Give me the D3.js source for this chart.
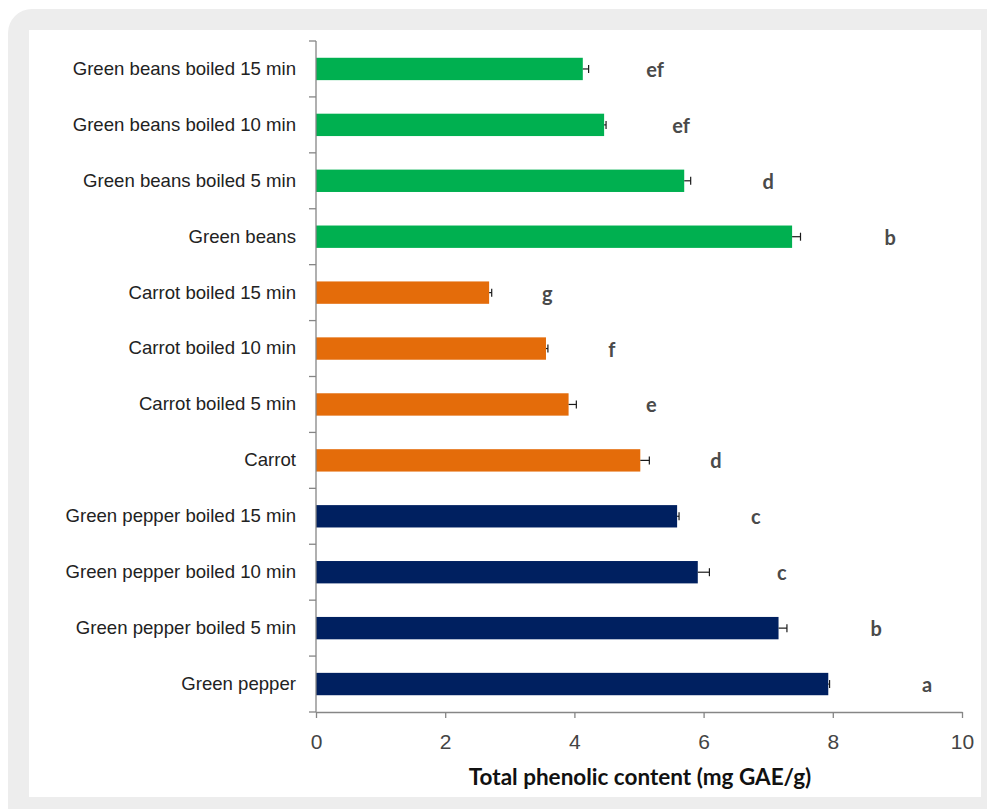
<!DOCTYPE html>
<html>
<head>
<meta charset="utf-8">
<script src="https://cdn.jsdelivr.net/npm/d3@7"></script>
<style>
  html, body { margin: 0; padding: 0; background: #ffffff; }
  svg { display: block; }
</style>
</head>
<body>
<svg id="chart" width="987" height="809"></svg>
<script>
// Samples, listed top to bottom
const categories = [
  "Green beans boiled 15 min",
  "Green beans boiled 10 min",
  "Green beans boiled 5 min",
  "Green beans",
  "Carrot boiled 15 min",
  "Carrot boiled 10 min",
  "Carrot boiled 5 min",
  "Carrot",
  "Green pepper boiled 15 min",
  "Green pepper boiled 10 min",
  "Green pepper boiled 5 min",
  "Green pepper"
];
const groups = [
  "Green beans", "Green beans", "Green beans", "Green beans",
  "Carrot", "Carrot", "Carrot", "Carrot",
  "Green pepper", "Green pepper", "Green pepper", "Green pepper"
];
// Total phenolic content (mg GAE/g) and standard deviation
const values = [4.13, 4.46, 5.70, 7.37, 2.68, 3.56, 3.91, 5.02, 5.59, 5.91, 7.16, 7.93];
const errors = [0.09, 0.03, 0.10, 0.13, 0.04, 0.03, 0.12, 0.14, 0.03, 0.18, 0.13, 0.02];
// Significance letters and where they sit along the value axis
const letters = ["ef", "ef", "d", "b", "g", "f", "e", "d", "c", "c", "b", "a"];
const letterAt = [5.25, 5.65, 7.0, 8.89, 3.58, 4.58, 5.19, 6.19, 6.81, 7.21, 8.67, 9.46];
const xTicks = [0, 2, 4, 6, 8, 10];
const groupNames = ["Green beans", "Carrot", "Green pepper"];
const groupColors = ["#00b050", "#e46c0a", "#002060"];

const rows = categories.map((c, i) => ({
  cat: c, group: groups[i], value: values[i], err: errors[i],
  letter: letters[i], letterAt: letterAt[i]
}));

const svg = d3.select("#chart");

// Frame: grey rounded card with a white panel inside
svg.append("rect").attr("x", 8).attr("y", 9).attr("width", 1010).attr("height", 830)
  .attr("rx", 24).attr("fill", "#ededed");
svg.append("rect").attr("x", 29).attr("y", 30).attr("width", 952).attr("height", 767)
  .attr("fill", "#ffffff");

const x = d3.scaleLinear().domain([0, 10]).range([316, 962]);
const y = d3.scaleBand().domain(categories).range([41, 712])
  .paddingInner(0.6).paddingOuter(0.3);
const color = d3.scaleOrdinal().domain(groupNames).range(groupColors);

const axisColor = "#868686";
const yTop = y.range()[0], yBottom = y.range()[1];

// Bars
svg.append("g").selectAll("rect").data(rows).join("rect")
  .attr("x", x(0))
  .attr("y", d => y(d.cat))
  .attr("width", d => x(d.value) - x(0))
  .attr("height", y.bandwidth())
  .attr("fill", d => color(d.group));

// Error bars (positive side with cap)
const eb = svg.append("g").attr("stroke", "#1a1a1a").attr("stroke-width", 1.2);
eb.selectAll("line.h").data(rows).join("line").attr("class", "h")
  .attr("x1", d => x(d.value)).attr("x2", d => x(d.value + d.err))
  .attr("y1", d => y(d.cat) + y.bandwidth() / 2).attr("y2", d => y(d.cat) + y.bandwidth() / 2);
eb.selectAll("line.c").data(rows).join("line").attr("class", "c")
  .attr("x1", d => x(d.value + d.err)).attr("x2", d => x(d.value + d.err))
  .attr("y1", d => y(d.cat) + y.bandwidth() / 2 - 4).attr("y2", d => y(d.cat) + y.bandwidth() / 2 + 4);

// Category axis
const yAxis = svg.append("g").attr("transform", `translate(${x(0)},0)`)
  .call(d3.axisLeft(y).tickSize(0).tickPadding(20));
yAxis.select(".domain").remove();
yAxis.selectAll("text")
  .attr("font-family", "'Liberation Sans', Arial, sans-serif")
  .attr("font-size", 18.6).attr("fill", "#222");
// Boundary ticks between categories
const bounds = d3.range(categories.length + 1).map(i => yTop + i * y.step());
svg.append("g").selectAll("line").data(bounds).join("line")
  .attr("x1", x(0) - 7).attr("x2", x(0)).attr("y1", d => d).attr("y2", d => d)
  .attr("stroke", axisColor).attr("stroke-width", 1.3);
svg.append("line").attr("x1", x(0)).attr("x2", x(0)).attr("y1", yTop).attr("y2", yBottom)
  .attr("stroke", axisColor).attr("stroke-width", 1.3);

// Value axis
const xAxis = svg.append("g").attr("transform", `translate(0,${yBottom})`)
  .call(d3.axisBottom(x).tickValues(xTicks).tickSize(6).tickSizeOuter(0).tickPadding(16));
xAxis.select(".domain").attr("stroke", axisColor).attr("stroke-width", 1.3);
xAxis.selectAll(".tick line").attr("stroke", axisColor).attr("stroke-width", 1.3);
xAxis.selectAll("text")
  .attr("font-family", "'Liberation Sans', Arial, sans-serif")
  .attr("font-size", 21).attr("fill", "#444");

// Significance letters
svg.append("g").selectAll("text").data(rows).join("text")
  .attr("x", d => x(d.letterAt))
  .attr("y", d => y(d.cat) + y.bandwidth() / 2)
  .attr("text-anchor", "middle").attr("dominant-baseline", "central")
  .attr("font-family", "Lato, 'Open Sans', sans-serif").attr("font-size", 20)
  .attr("font-weight", "bold").attr("fill", "#4a4a4a")
  .text(d => d.letter);

// Axis title
svg.append("text")
  .attr("x", 640).attr("y", 776).attr("text-anchor", "middle").attr("dominant-baseline", "central")
  .attr("font-family", "Lato, 'Open Sans', sans-serif").attr("font-weight", "bold")
  .attr("font-size", 22.5).attr("fill", "#111")
  .text("Total phenolic content (mg GAE/g)");
</script>
</body>
</html>
